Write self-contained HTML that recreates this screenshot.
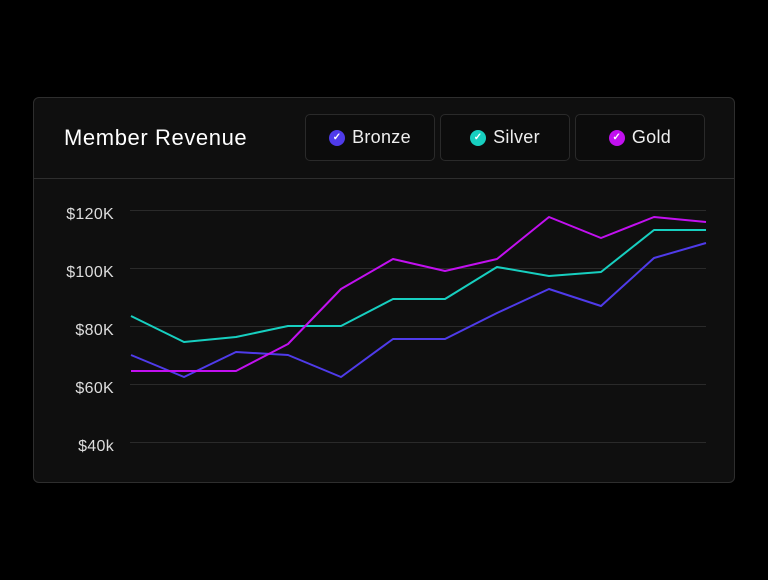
<!DOCTYPE html>
<html><head><style>
body{margin:0;background:#000;width:768px;height:580px;position:relative;overflow:hidden;font-family:"Liberation Sans",sans-serif}
.card{position:absolute;left:33px;top:97px;width:702px;height:386px;background:#0f0f0f;border:1px solid #2e2e2e;border-radius:6px;box-sizing:border-box}
.title{position:absolute;left:64px;top:124px;color:#fff;font-size:22px;line-height:28px;letter-spacing:0.6px}
.btn{position:absolute;top:114px;width:130px;height:47px;border:1px solid #2a2a2a;border-radius:5px;box-sizing:border-box;background:#0c0c0c;color:#eee;font-size:18px;display:flex;align-items:center;justify-content:center;letter-spacing:0.3px}
.dot{width:16px;height:16px;border-radius:50%;margin-right:7px;display:flex;align-items:center;justify-content:center;color:#fff;font-size:10px;font-weight:bold}
.div{position:absolute;left:34px;top:178px;width:700px;height:1px;background:#2e2e2e}
.lbl{position:absolute;right:654px;color:#ddd;font-size:16px;line-height:18px;letter-spacing:0.3px}
</style></head><body>
<div class="card"></div>
<div class="title">Member Revenue</div>
<div class="btn" style="left:305px"><span class="dot" style="background:#4f3bea">✓</span>Bronze</div>
<div class="btn" style="left:440px"><span class="dot" style="background:#17cfc0">✓</span>Silver</div>
<div class="btn" style="left:575px"><span class="dot" style="background:#c210f0">✓</span>Gold</div>
<div class="div"></div>
<div class="lbl" style="top:206px">$120K</div>
<div class="lbl" style="top:264px">$100K</div>
<div class="lbl" style="top:322px">$80K</div>
<div class="lbl" style="top:380px">$60K</div>
<div class="lbl" style="top:438px">$40k</div>
<svg width="768" height="580" style="position:absolute;left:0;top:0">
<g stroke="#2a2a2a" stroke-width="1">
<line x1="130" y1="210.5" x2="706" y2="210.5"/><line x1="130" y1="268.5" x2="706" y2="268.5"/>
<line x1="130" y1="326.5" x2="706" y2="326.5"/><line x1="130" y1="384.5" x2="706" y2="384.5"/>
<line x1="130" y1="442.5" x2="706" y2="442.5"/></g>
<g fill="none" stroke-width="2" stroke-linejoin="round">
<polyline stroke="#4f3bea" points="131,355 184,377 236,352 288,355 341,377 393,339 445,339 497,313 549,289 601,306 654,258 706,243"/>
<polyline stroke="#17cfc0" points="131,316 184,342 236,337 288,326 341,326 393,299 445,299 497,267 549,276 601,272 654,230 706,230"/>
<polyline stroke="#c210f0" points="131,371 184,371 236,371 288,344 341,289 393,259 445,271 497,259 549,217 601,238 654,217 706,222"/>
</g></svg>
</body></html>
